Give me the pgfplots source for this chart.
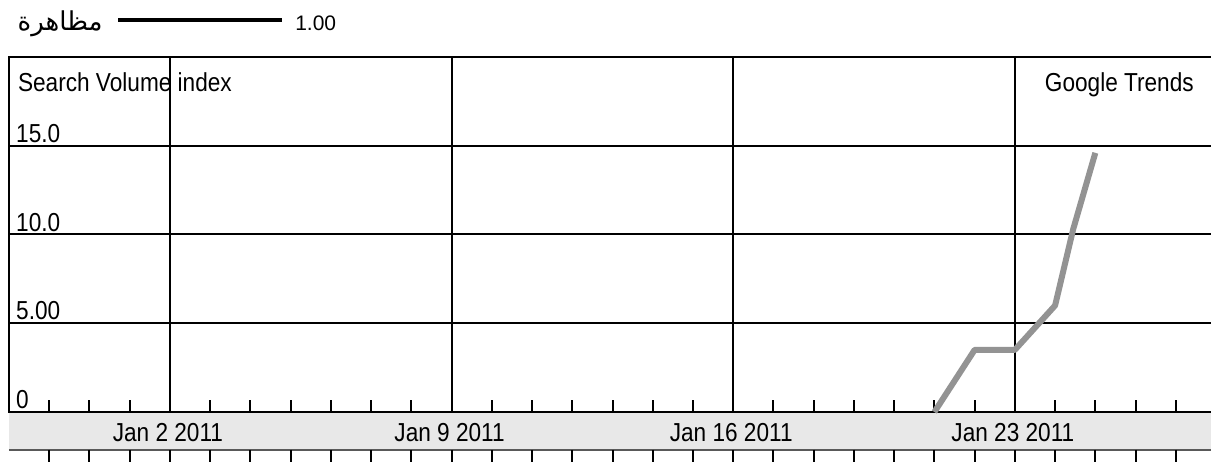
\documentclass[border=0pt]{standalone}
\usepackage{graphicx}
\usepackage{fontspec}
\setmainfont{Liberation Sans}
\newfontfamily\arabicfont[Script=Arabic]{DejaVu Sans}
\TeXXeTstate=1
\usepackage{pgfplots}
\pgfplotsset{compat=1.18}
\newcommand{\hs}[1]{\scalebox{0.87}[1]{#1}}
\newcommand{\bigf}{\fontsize{26}{29}\selectfont}
\begin{document}
\begin{tikzpicture}
\path[use as bounding box] (-9pt,-50pt) rectangle (1202pt,412pt);
% gray date band (behind the axis)
\fill[gray!18] (0pt,-1pt) rectangle (1203pt,-38pt);
\draw[gray!70!black, line width=1.5pt] (0pt,-38pt) -- (1203pt,-38pt);
\begin{axis}[
  at={(0pt,0pt)}, anchor=south west,
  scale only axis, width=1203pt, height=355pt,
  xmin=-2, xmax=27.9, ymin=0, ymax=20,
  clip=false,
  axis line style={black, line width=2pt},
  xtick={2,9,16,23},
  xticklabels={\hs{Jan 2 2011},\hs{Jan 9 2011},\hs{Jan 16 2011},\hs{Jan 23 2011}},
  minor xtick={-1,0,1,3,4,5,6,7,8,10,11,12,13,14,15,17,18,19,20,21,22,24,25,26,27},
  xtick pos=bottom,
  major tick length=0pt,
  minor tick length=12pt,
  minor x tick style={black, line width=2pt},
  xticklabel style={font=\bigf, anchor=base, yshift=-30pt, xshift=-2pt, inner sep=0pt},
  ytick={0,5,10,15},
  yticklabels={\hs{0},\hs{5.00},\hs{10.0},\hs{15.0}},
  yticklabel style={font=\bigf, anchor=base west, inner sep=0pt, xshift=7pt, yshift=3.3pt},
  ytick style={draw=none},
  xmajorgrids, ymajorgrids,
  major grid style={black, line width=2pt},
]
\pgfplotsinvokeforeach{-1,...,27}{
  \draw[black, line width=2pt] ([yshift=-38pt]axis cs:#1,0) -- ([yshift=-52pt]axis cs:#1,0);
}
\addplot[color=gray!85, line width=6pt, line join=round] coordinates {
  (21,0) (22,3.5) (23,3.5) (24,6.0) (24.45,10.3) (25,14.6)
};
\node[font=\bigf, anchor=base west, inner sep=0pt] at (axis cs:-1.78,18.06) {\hs{Search Volume index}};
\node[font=\bigf, anchor=base east, inner sep=0pt] at (axis cs:27.45,18.06) {\hs{Google Trends}};
% legend
\draw[black, line width=4pt] (axis cs:0.71,22.08) -- (axis cs:4.78,22.08);
\node[font=\fontsize{21}{24}\selectfont, anchor=base west, inner sep=0pt] at (axis cs:5.11,21.52) {1.00};
\node[font=\fontsize{26}{28}\selectfont, anchor=base east, inner sep=0pt] at (axis cs:0.33,21.52) {\arabicfont\beginR مظاهرة\endR};
\end{axis}
\end{tikzpicture}
\end{document}
